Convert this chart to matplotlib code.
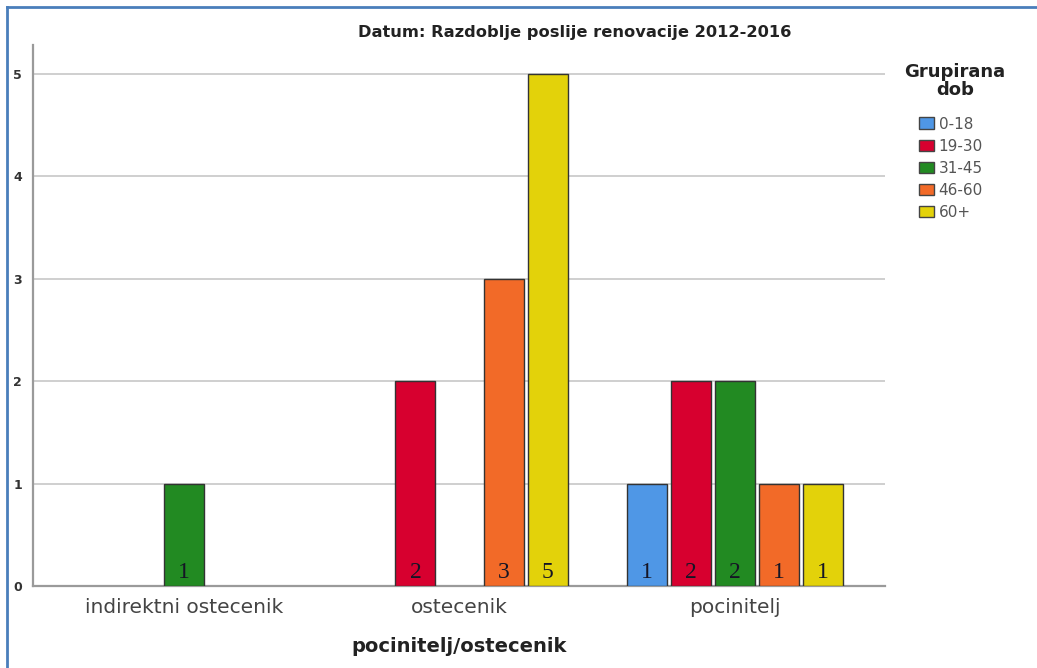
import matplotlib.pyplot as plt
import numpy as np
from matplotlib.lines import Line2D

categories = ['indirektni ostecenik', 'ostecenik', 'pocinitelj']
age_groups = ['0-18', '19-30', '31-45', '46-60', '60+']
v_0_18 = [0, 0, 1]
v_19_30 = [0, 2, 2]
v_31_45 = [1, 0, 2]
v_46_60 = [0, 3, 1]
v_60plus = [0, 5, 1]
series = [v_0_18, v_19_30, v_31_45, v_46_60, v_60plus]
colors = ['#4f97e6', '#d7002f', '#228a22', '#f26a28', '#e3d20a']

fig = plt.figure(figsize=(10.37, 6.68), dpi=100)
ax = fig.add_axes([0.0318, 0.1228, 0.8216, 0.8098])

x = np.arange(len(categories))
step = 0.16
width = 0.145
for i, (vals, col) in enumerate(zip(series, colors)):
    for xi, v in zip(x, vals):
        if v <= 0:
            continue
        xpos = xi + (i - 2) * step
        ax.bar(xpos, v, width=width, color=col, edgecolor='#333333',
               linewidth=1, zorder=3)
        ax.text(xpos, 0.075, str(v), ha='center', va='baseline',
                fontsize=17, family='Liberation Serif', color='#151525',
                zorder=4)

ax.set_xlim(-0.548, 2.544)
ax.set_ylim(0, 5.28)
ax.set_yticks(range(0, 6))
ax.set_xticks(x)
ax.set_xticklabels(categories, fontsize=14.5, color='#444444')
ax.tick_params(axis='x', length=0, pad=9)
ax.tick_params(axis='y', length=0, pad=8, labelsize=9, labelcolor='#333333')
for t in ax.get_yticklabels():
    t.set_fontweight('bold')
ax.yaxis.grid(True, color='#cccccc', linewidth=1.3, zorder=0)
ax.set_axisbelow(True)
for s in ['top', 'right']:
    ax.spines[s].set_visible(False)
for s in ['left', 'bottom']:
    ax.spines[s].set_color('#9a9a9a')
    ax.spines[s].set_linewidth(1.6)

ax.set_xlabel('pocinitelj/ostecenik', fontsize=14, fontweight='bold',
              color='#222222', labelpad=14)

fig.text(0.554, 0.952, 'Datum: Razdoblje poslije renovacije 2012-2016',
         ha='center', va='center', fontsize=11.7, fontweight='bold',
         color='#222222')

# legend title drawn separately so it can sit centred above the entries
fig.text(955 / 1037, 1 - 81 / 668, 'Grupirana\ndob', ha='center',
         va='center', fontsize=13, fontweight='bold', color='#222222',
         linespacing=1.0)
handles = [plt.Rectangle((0, 0), 1, 1, facecolor=c, edgecolor='#444444',
                         linewidth=1) for c in colors]
leg = fig.legend(handles, age_groups, loc='upper left',
                 bbox_to_anchor=(911 / 1037, 1 - 109 / 668), frameon=False,
                 fontsize=11, borderpad=0,
                 handlelength=1.0, handleheight=0.8, handletextpad=0.3,
                 labelspacing=0.46)
for t in leg.get_texts():
    t.set_color('#555555')

# blue frame around the picture
fig.add_artist(Line2D([7 / 1037, 7 / 1037], [0, 1 - 7 / 668],
                      transform=fig.transFigure, color='#4a7ebb', lw=2))
fig.add_artist(Line2D([7 / 1037, 1], [1 - 7 / 668, 1 - 7 / 668],
                      transform=fig.transFigure, color='#4a7ebb', lw=2))

fig.savefig('out.png', dpi=100)
